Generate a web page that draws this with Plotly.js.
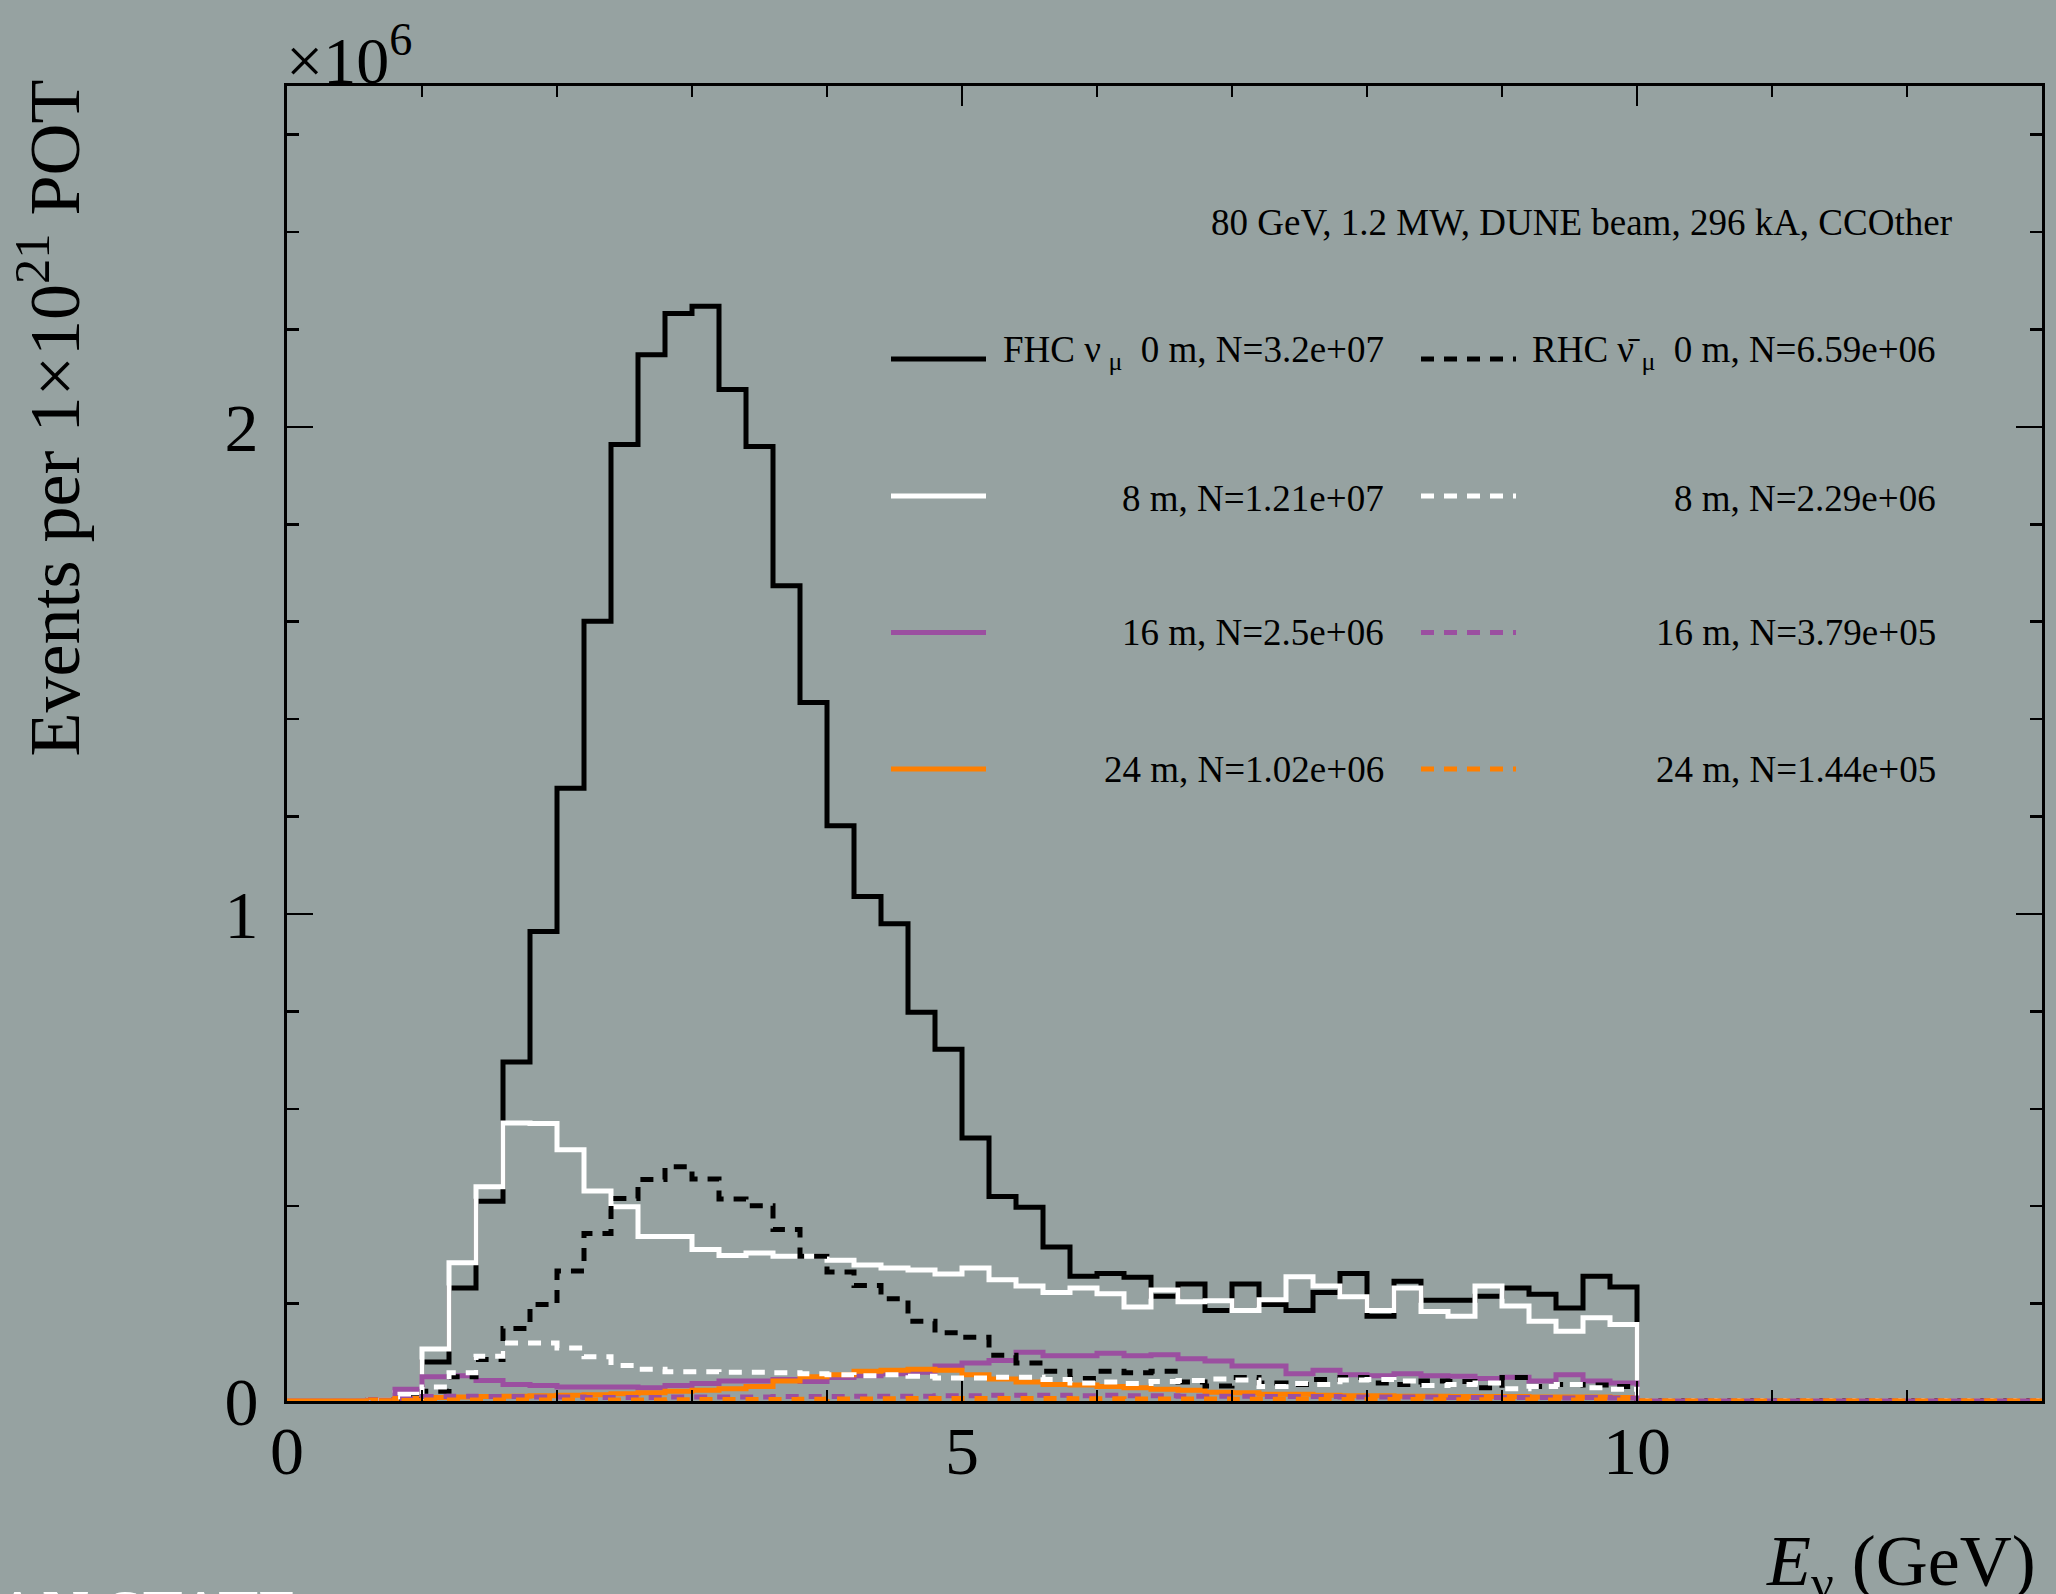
<!DOCTYPE html>
<html>
<head>
<meta charset="utf-8">
<script src="https://cdn.plot.ly/plotly-3.0.1.min.js"></script>
<style>
  html, body { margin: 0; padding: 0; background: #96a2a1; }
  #chart { width: 2056px; height: 1594px; }
</style>
</head>
<body>
<div id="chart"></div>
<script>
// ---------------- DATA (events per 0.2 GeV bin, in units of 1e6) ----------------
// Bins: 0.0-0.2, 0.2-0.4, ... 12.8-13.0 (65 bins)
const binWidth = 0.2;

const fhc0m = [0,0,0,0.002,0.012,0.080,0.232,0.410,0.696,0.964,1.258,1.601,1.964,2.148,2.233,2.248,2.077,1.960,1.674,1.434,1.181,1.036,0.980,0.798,0.722,0.540,0.420,0.398,0.316,0.256,0.262,0.254,0.215,0.240,0.186,0.240,0.198,0.186,0.223,0.262,0.174,0.246,0.207,0.207,0.215,0.232,0.219,0.191,0.256,0.234,0,0,0,0,0,0,0,0,0,0,0,0,0,0,0];
const fhc8m = [0,0,0,0.002,0.017,0.107,0.284,0.440,0.571,0.570,0.516,0.431,0.399,0.338,0.338,0.311,0.299,0.304,0.297,0.297,0.289,0.279,0.273,0.269,0.261,0.273,0.249,0.236,0.223,0.232,0.220,0.193,0.228,0.204,0.206,0.186,0.208,0.255,0.236,0.214,0.186,0.232,0.184,0.174,0.236,0.195,0.164,0.143,0.171,0.157,0,0,0,0,0,0,0,0,0,0,0,0,0,0,0];
const fhc16m = [0,0,0,0.003,0.024,0.050,0.052,0.042,0.034,0.032,0.029,0.029,0.029,0.027,0.032,0.036,0.041,0.041,0.044,0.040,0.048,0.052,0.056,0.059,0.072,0.078,0.083,0.100,0.093,0.093,0.098,0.093,0.095,0.087,0.082,0.072,0.072,0.056,0.063,0.054,0.052,0.056,0.052,0.051,0.046,0.049,0.041,0.054,0.041,0.037,0,0,0,0,0,0,0,0,0,0,0,0,0,0,0];
const fhc24m = [0,0,0,0.002,0.005,0.007,0.008,0.009,0.010,0.011,0.012,0.013,0.015,0.017,0.020,0.022,0.025,0.030,0.041,0.050,0.054,0.061,0.063,0.065,0.063,0.054,0.045,0.039,0.034,0.033,0.030,0.027,0.024,0.022,0.018,0.017,0.014,0.014,0.012,0.011,0.011,0.010,0.010,0.009,0.009,0.009,0.008,0.008,0.008,0.007,0,0,0,0,0,0,0,0,0,0,0,0,0,0,0];
const rhc0m = [0,0,0,0.002,0.006,0.020,0.050,0.085,0.149,0.198,0.267,0.344,0.416,0.455,0.481,0.456,0.415,0.401,0.352,0.297,0.265,0.237,0.210,0.164,0.140,0.131,0.094,0.078,0.061,0.046,0.061,0.058,0.061,0.039,0.031,0.048,0.037,0.034,0.044,0.048,0.037,0.034,0.041,0.040,0.027,0.048,0.030,0.034,0.033,0.030,0,0,0,0,0,0,0,0,0,0,0,0,0,0,0];
const rhc8m = [0,0,0,0.002,0.008,0.029,0.058,0.092,0.119,0.119,0.109,0.091,0.073,0.065,0.060,0.060,0.059,0.059,0.058,0.056,0.054,0.052,0.054,0.051,0.047,0.047,0.049,0.049,0.044,0.037,0.039,0.036,0.040,0.042,0.045,0.043,0.030,0.036,0.034,0.043,0.044,0.041,0.032,0.034,0.037,0.025,0.030,0.034,0.027,0.024,0,0,0,0,0,0,0,0,0,0,0,0,0,0,0];
const rhc16m = [0,0,0,0.001,0.004,0.009,0.010,0.009,0.009,0.008,0.008,0.007,0.007,0.007,0.008,0.008,0.008,0.008,0.009,0.009,0.009,0.010,0.010,0.010,0.011,0.011,0.012,0.012,0.012,0.011,0.012,0.011,0.011,0.010,0.010,0.010,0.009,0.009,0.009,0.008,0.008,0.008,0.008,0.007,0.007,0.007,0.007,0.006,0.007,0.006,0,0,0,0,0,0,0,0,0,0,0,0,0,0,0];
const rhc24m = [0,0,0,0.0005,0.001,0.002,0.002,0.002,0.002,0.002,0.002,0.002,0.002,0.002,0.0025,0.003,0.003,0.003,0.003,0.0035,0.004,0.004,0.0045,0.005,0.005,0.005,0.005,0.005,0.005,0.0045,0.0045,0.004,0.004,0.004,0.004,0.0035,0.0035,0.0035,0.003,0.003,0.003,0.003,0.0025,0.0025,0.0025,0.0025,0.002,0.002,0.002,0.002,0,0,0,0,0,0,0,0,0,0,0,0,0,0,0];

const fhcLabels = ["FHC ν\u2009<sub>μ</sub>\u00A0 0 m, N=3.2e+07", "8 m, N=1.21e+07", "16 m, N=2.5e+06", "24 m, N=1.02e+06"];
const rhcLabels = ["RHC ν̄\u2009<sub>μ</sub>\u00A0 0 m, N=6.59e+06", "8 m, N=2.29e+06", "16 m, N=3.79e+05", "24 m, N=1.44e+05"];
const headerText = "80 GeV, 1.2 MW, DUNE beam, 296 kA, CCOther";
const colors = ["#000000", "#ffffff", "#9b4fa0", "#ff7f00"];

// ---------------- BUILD ----------------
const BG = "#96a2a1";
const FONT = "Liberation Serif, Times New Roman, serif";
const LW = 5;
const DASH = "13px,10px";

function edgesFor(vals) {
  return Array.from({length: vals.length + 1}, (_, i) => +(i * binWidth).toFixed(4));
}
function stepTrace(vals, color, dash) {
  return {
    x: edgesFor(vals),
    y: vals.concat([vals[vals.length - 1]]),
    type: "scatter", mode: "lines",
    line: {shape: "hv", color: color, width: LW, dash: dash},
    showlegend: false, hoverinfo: "skip"
  };
}

const fhcSeries = [fhc0m, fhc8m, fhc16m, fhc24m];
const rhcSeries = [rhc0m, rhc8m, rhc16m, rhc24m];
const traces = [];
fhcSeries.forEach((s, i) => traces.push(stepTrace(s, colors[i], "solid")));
rhcSeries.forEach((s, i) => traces.push(stepTrace(s, colors[i], DASH)));

// plot area in pixels: x 287..2042, y 86..1401
const L = 287, R = 14, T = 86, B = 193;
const PW = 2056 - L - R, PH = 1594 - T - B;
const px = X => (X - L) / PW;
const py = Y => (1594 - B - Y) / PH;

const rowY = [359, 496, 632.5, 769];
const rowTextY = [352, 498, 632, 769];
const shapes = [];
const annotations = [];
for (let i = 0; i < 4; i++) {
  shapes.push({type: "line", xref: "paper", yref: "paper", x0: px(891), x1: px(986), y0: py(rowY[i]), y1: py(rowY[i]),
               line: {color: colors[i], width: LW}, layer: "above"});
  shapes.push({type: "line", xref: "paper", yref: "paper", x0: px(1421), x1: px(1516), y0: py(rowY[i]), y1: py(rowY[i]),
               line: {color: colors[i], width: LW, dash: DASH}, layer: "above"});
  annotations.push({xref: "paper", yref: "paper", x: px(1386), y: py(rowTextY[i]), xanchor: "right", yanchor: "middle",
                    text: fhcLabels[i], showarrow: false, font: {family: FONT, size: 37, color: "black"}});
  annotations.push({xref: "paper", yref: "paper", x: px(1938), y: py(rowTextY[i]), xanchor: "right", yanchor: "middle",
                    text: rhcLabels[i], showarrow: false, font: {family: FONT, size: 37, color: "black"}});
}
annotations.push({xref: "paper", yref: "paper", x: px(1954), y: py(223), xanchor: "right", yanchor: "middle",
                  text: headerText, showarrow: false, font: {family: FONT, size: 37, color: "black"}});
// y axis title (right-aligned to top, ROOT style)
annotations.push({xref: "paper", yref: "paper", x: px(49), y: py(78), xanchor: "center", yanchor: "top", textangle: -90,
                  text: "Events per 1×10<sup>21</sup> POT", showarrow: false, font: {family: FONT, size: 72, color: "black"}});
// exponent label
annotations.push({xref: "paper", yref: "paper", x: px(284), y: py(55), xanchor: "left", yanchor: "middle",
                  text: "×10<sup>6</sup>", showarrow: false, font: {family: FONT, size: 66, color: "black"}});
// x axis title
annotations.push({xref: "paper", yref: "paper", x: px(2038), y: py(1566), xanchor: "right", yanchor: "middle",
                  text: "<i>E</i><sub>ν</sub> (GeV)", showarrow: false, font: {family: FONT, size: 72, color: "black"}});
// cut-off watermark at the bottom-left
annotations.push({xref: "paper", yref: "paper", x: px(301), y: py(1612), xanchor: "right", yanchor: "middle",
                  text: "MICHIGAN STATE", showarrow: false, font: {family: FONT, size: 66, color: "white"}});

const axisCommon = {
  showline: true, linecolor: "black", linewidth: 3, mirror: "ticks",
  ticks: "inside", tickcolor: "black", tickwidth: 2.5,
  showgrid: false, zeroline: false, fixedrange: true,
  tickfont: {family: FONT, size: 68, color: "black"}
};

const layout = {
  width: 2056, height: 1594,
  margin: {l: L, r: R, t: T, b: B, pad: 0},
  paper_bgcolor: BG, plot_bgcolor: BG,
  showlegend: false,
  xaxis: Object.assign({}, axisCommon, {
    range: [0, 13], tickmode: "linear", tick0: 0, dtick: 5, ticklen: 20,
    ticklabelstandoff: -12,
    minor: {tickmode: "linear", tick0: 0, dtick: 1, ticks: "inside", ticklen: 11, tickwidth: 2.5, tickcolor: "black", showgrid: false}
  }),
  yaxis: Object.assign({}, axisCommon, {
    range: [0, 2.7], tickmode: "linear", tick0: 0, dtick: 1, ticklen: 26,
    ticklabelstandoff: 12,
    minor: {tickmode: "linear", tick0: 0, dtick: 0.2, ticks: "inside", ticklen: 12, tickwidth: 2.5, tickcolor: "black", showgrid: false}
  }),
  shapes: shapes,
  annotations: annotations
};

Plotly.newPlot("chart", traces, layout, {staticPlot: true, displayModeBar: false});
</script>
</body>
</html>
